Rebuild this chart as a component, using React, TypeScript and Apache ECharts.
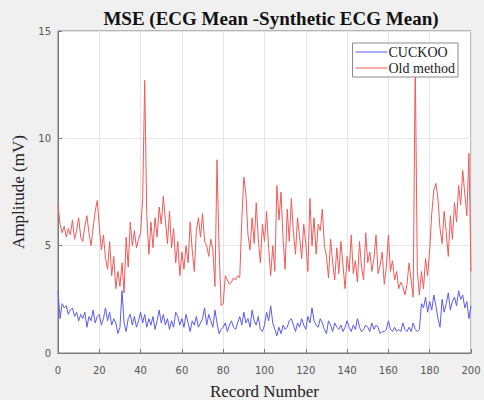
import React, { useEffect, useRef } from "react";
import * as echarts from "echarts";

const titleText = "MSE (ECG Mean -Synthetic ECG Mean)";
const xName = "Record Number";
const yName = "Amplitude (mV)";
const seriesNames = ["CUCKOO", "Old method"];

const cuckoo = [
  2.9, 1.6, 2.3, 2.1, 2.2, 1.8, 2.0, 2.1, 1.7, 1.9,
  1.5, 1.8, 1.6, 1.9, 1.2, 1.7, 1.5, 2.0, 1.4, 1.7,
  1.8, 1.3, 1.6, 2.1, 1.5, 1.9, 1.3, 1.6, 1.4, 0.9,
  1.2, 2.9, 1.4, 1.0, 1.6, 1.8, 1.3, 1.7, 1.2, 1.5,
  1.9, 1.4, 1.8, 1.2, 1.6, 1.3, 1.7, 1.1, 1.5, 2.0,
  1.4, 1.8, 1.3, 1.6, 1.1, 1.5, 1.2, 1.9, 1.7, 1.3,
  1.6, 1.2, 1.8, 1.4, 1.0, 1.5, 1.3, 1.7, 1.2, 1.4,
  1.6, 2.1, 1.3, 1.8, 1.5, 1.2, 2.0, 1.4, 0.9, 1.1,
  1.2, 1.4, 1.0, 1.3, 1.5, 1.2, 1.1, 1.4, 1.7, 1.3,
  1.9, 1.4, 1.6, 1.2, 2.0, 1.5, 1.3, 1.7, 1.1, 1.0,
  1.3, 1.9, 1.5, 2.2, 1.4, 1.1, 0.8, 1.2, 0.9, 1.3,
  1.1, 1.2, 1.5, 1.6, 1.3, 1.0, 1.4, 1.2, 1.6, 1.3,
  1.1, 1.7, 1.4, 2.1, 1.5, 1.3, 1.2, 1.6, 1.4, 1.1,
  0.9, 1.5, 1.3, 1.0, 1.4, 1.2, 1.1, 1.3, 1.0, 1.2,
  1.5, 1.2, 1.0, 1.3, 1.1, 1.6, 1.2, 1.0, 1.1, 1.3,
  1.2, 1.0, 1.4, 1.1, 1.3, 1.2, 0.9, 1.0, 1.0, 1.1,
  1.5, 1.1, 1.0, 1.2, 1.0, 1.1, 1.0, 1.4, 1.1, 1.0,
  1.2, 1.0, 1.4, 1.1, 1.0, 1.1, 2.3, 2.1, 2.6, 1.9,
  2.4, 2.0, 2.7, 2.2, 1.6, 1.2, 2.5, 1.9, 2.3, 2.8,
  2.0, 2.4, 2.6, 2.2, 2.9, 2.5, 2.7, 2.1, 2.4, 1.6,
  2.2,
];

const oldMethod = [
  6.9, 6.0, 5.6, 5.9, 5.4, 5.8, 5.5, 6.2, 5.3, 5.7,
  6.3, 5.4, 5.2, 5.9, 6.4, 5.6, 5.0, 5.8, 6.6, 7.1,
  5.9, 4.8, 5.5, 4.4, 3.9, 5.2, 3.6, 4.5, 3.0, 3.8,
  3.1, 4.2, 2.8, 5.4, 4.0, 6.1, 5.0, 5.7, 4.9, 5.3,
  5.6, 7.2, 12.7, 6.4, 4.6, 6.1, 4.9, 6.3, 5.4, 6.8,
  6.0, 7.3, 6.2, 5.1, 6.6, 4.9, 5.8, 4.2, 5.2, 3.6,
  4.7, 3.9, 5.0, 4.2, 6.1, 4.8, 3.8, 5.7, 6.3, 5.4,
  6.5, 5.2, 5.0, 4.5, 5.3, 4.8, 3.1, 9.0, 4.8, 2.2,
  2.3, 3.6, 3.4, 3.2, 3.3, 3.5, 3.4, 3.6, 3.5, 6.2,
  8.2, 7.4, 5.5, 4.8, 6.3, 5.1, 7.0, 5.3, 4.2, 6.0,
  5.2, 6.6, 4.9, 3.6, 5.0, 3.8, 7.8, 6.2, 7.5, 5.3,
  3.9, 6.7, 5.2, 7.2, 5.6, 4.6, 6.3, 5.4, 4.4, 6.0,
  5.1, 3.8, 7.2, 5.0, 6.3, 4.6, 6.0, 5.7, 6.7, 5.0,
  4.5, 3.5, 5.3, 4.2, 3.4, 4.9, 3.7, 5.2, 4.1, 3.0,
  4.5, 3.8, 5.5, 3.7, 4.3, 3.3, 5.2, 4.0, 3.4, 5.6,
  4.2, 4.7, 3.8, 4.4, 5.5, 3.7, 4.1, 4.7, 3.2, 4.0,
  5.5, 3.8, 4.3, 3.4, 3.8, 3.0, 3.3, 3.1, 2.7, 3.2,
  4.2, 3.4, 2.6, 13.6, 3.8, 2.7, 3.8, 3.0, 4.4, 3.6,
  4.8, 6.5, 7.6, 7.9, 7.2, 5.8, 5.1, 6.6, 5.6, 4.5,
  6.4, 5.3, 7.0, 6.1, 7.8, 6.9, 8.5, 7.4, 6.4, 9.3,
  3.8,
];

const xMin = 0;
const xMax = 200;
const xStep = 20;
const yMin = 0;
const yMax = 15;
const yStep = 5;

export default function App() {
  const ref = useRef<HTMLDivElement>(null);
  useEffect(() => {
    if (!ref.current) return;
    const chart = echarts.init(ref.current, null, { renderer: "svg" });
    const toPairs = (arr: number[]) => arr.map((v, i) => [i, v]);
    chart.setOption({
      animation: false,
      backgroundColor: "#f0f0f0",
      title: {
        text: titleText,
        left: 266,
        textAlign: "center",
        top: 4,
        textStyle: {
          fontFamily: "Liberation Serif",
          fontWeight: "bold",
          fontSize: 19,
          color: "#111",
        },
      },
      legend: {
        orient: "vertical",
        right: 26,
        top: 43,
        backgroundColor: "#ffffff",
        borderColor: "#8a8a8a",
        borderWidth: 1,
        borderRadius: 0,
        padding: [2, 3, 2, 3],
        itemGap: 2,
        itemWidth: 32,
        itemHeight: 1,
        icon: "rect",
        textStyle: {
          fontFamily: "Liberation Serif",
          fontSize: 14,
          color: "#222",
          padding: [0, 0, 0, -4],
        },
        data: seriesNames,
      },
      grid: {
        left: 58,
        right: 13,
        top: 31,
        bottom: 47,
        outerBoundsMode: "none",
        containLabel: false,
        show: true,
        backgroundColor: "#ffffff",
        borderColor: "#7a7a7a",
        borderWidth: 1,
      },
      xAxis: {
        type: "value",
        min: xMin,
        max: xMax,
        interval: xStep,
        name: xName,
        nameLocation: "middle",
        nameGap: 30,
        nameTextStyle: {
          fontFamily: "Liberation Serif",
          fontSize: 17,
          color: "#222",
        },
        axisLine: { show: true, lineStyle: { color: "#7a7a7a" } },
        axisTick: { show: true, inside: true, length: 4, lineStyle: { color: "#7a7a7a" } },
        axisLabel: { fontSize: 10, color: "#555", margin: 12, fontFamily: "DejaVu Sans" },
        splitLine: { show: true, lineStyle: { color: "#e6e6e6", width: 1 } },
      },
      yAxis: {
        type: "value",
        min: yMin,
        max: yMax,
        interval: yStep,
        name: yName,
        nameLocation: "middle",
        nameGap: 26,
        nameTextStyle: {
          fontFamily: "Liberation Serif",
          fontSize: 17,
          color: "#222",
        },
        axisLine: { show: true, lineStyle: { color: "#7a7a7a" } },
        axisTick: { show: true, inside: true, length: 4, lineStyle: { color: "#7a7a7a" } },
        axisLabel: { fontSize: 10, color: "#555", margin: 7, fontFamily: "DejaVu Sans" },
        splitLine: { show: true, lineStyle: { color: "#e6e6e6", width: 1 } },
      },
      series: [
        {
          name: seriesNames[0],
          type: "line",
          data: toPairs(cuckoo),
          symbol: "none",
          lineStyle: { color: "#5b5bf0", width: 1 },
          itemStyle: { color: "#5b5bf0" },
        },
        {
          name: seriesNames[1],
          type: "line",
          data: toPairs(oldMethod),
          symbol: "none",
          lineStyle: { color: "#f05a5a", width: 1 },
          itemStyle: { color: "#f05a5a" },
        },
      ],
    });
    return () => chart.dispose();
  }, []);
  return <div ref={ref} style={{ width: 484, height: 400, position: "absolute", left: 0, top: 0 }} />;
}
